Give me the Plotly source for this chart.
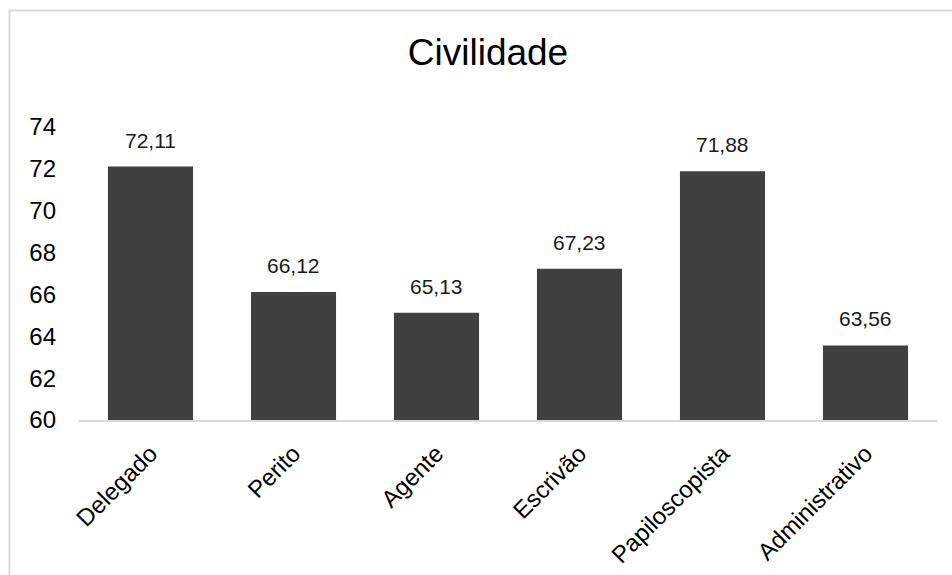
import plotly.graph_objects as go

# Civilidade scores by career
categories = ["Delegado", "Perito", "Agente", "Escrivão", "Papiloscopista", "Administrativo"]
scores = [72.11, 66.12, 65.13, 67.23, 71.88, 63.56]
y_ticks = [60, 62, 64, 66, 68, 70, 72, 74]

FONT = "Liberation Sans, Arial, sans-serif"
BAR_COLOR = "#404040"
AXIS_COLOR = "#d9d9d9"


def fmt(v):
    return f"{v:.2f}".replace(".", ",")


fig = go.Figure(
    go.Bar(
        x=categories,
        y=scores,
        marker=dict(color=BAR_COLOR, line=dict(width=0)),
        hoverinfo="x+y",
    )
)

# value labels above each bar
for cat, val in zip(categories, scores):
    fig.add_annotation(
        x=cat, y=val, text=fmt(val), showarrow=False,
        yanchor="bottom", yshift=13,
        font=dict(family=FONT, size=21, color="#1a1a1a"),
    )

# light outer frame of the chart area
fig.add_shape(
    type="rect", xref="paper", yref="paper",
    x0=-0.081, x1=1.06, y0=-0.7, y1=1.3976,
    line=dict(color=AXIS_COLOR, width=2), fillcolor="rgba(0,0,0,0)",
    layer="below",
)

fig.update_layout(
    width=952, height=575,
    margin=dict(l=79, r=15, t=127, b=155, autoexpand=False),
    paper_bgcolor="white", plot_bgcolor="white",
    bargap=0.405,
    showlegend=False,
    separators=",.",
    title=dict(
        text="Civilidade", x=0.5126, xref="container", xanchor="center",
        y=1 - 52 / 575, yref="container", yanchor="middle",
        font=dict(family=FONT, size=37, color="#000000"),
    ),
    font=dict(family=FONT, color="#000000"),
)

fig.update_xaxes(
    showgrid=False, showline=True, linecolor=AXIS_COLOR, linewidth=2,
    ticks="", tickangle=-45, ticklabelstandoff=8, automargin=False,
    tickfont=dict(family=FONT, size=24, color="#000000"),
)
fig.update_yaxes(
    range=[60, 74], tickvals=y_ticks, showgrid=False, zeroline=False,
    showline=False, ticks="", ticklabelstandoff=22, automargin=False,
    tickfont=dict(family=FONT, size=24, color="#000000"),
)

fig.write_html("out.html")
